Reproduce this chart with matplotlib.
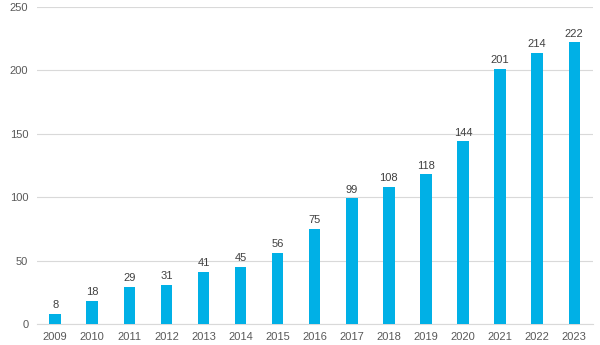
import matplotlib
matplotlib.use("Agg")
import matplotlib.pyplot as plt
import numpy as np

plt.rcParams["font.family"] = ["Liberation Sans", "DejaVu Sans"]

years = ["2009", "2010", "2011", "2012", "2013", "2014", "2015", "2016",
         "2017", "2018", "2019", "2020", "2021", "2022", "2023"]
counts = [8, 18, 29, 31, 41, 45, 56, 75, 99, 108, 118, 144, 201, 214, 222]

fig = plt.figure(figsize=(6, 3.45), dpi=100)
ax = fig.add_axes([0.061, 0.061, 0.927, 0.919])

x = np.arange(len(years))
bars = ax.bar(x, counts, width=0.31, color="#00B0E6", zorder=3)
for xi, v in zip(x, counts):
    ax.text(xi, v + 3, str(v), ha="center", va="bottom", fontsize=8, color="#404040")

ax.set_xlim(-0.5, len(years) - 0.5)
ax.set_ylim(0, 250)
ax.set_yticks(range(0, 251, 50))
ax.set_xticks(x)
ax.set_xticklabels(years)
ax.grid(axis="y", color="#D9D9D9", linewidth=0.8, zorder=0)
for s in ["top", "right", "left"]:
    ax.spines[s].set_visible(False)
ax.spines["bottom"].set_color("#D9D9D9")
ax.tick_params(length=0, labelsize=8, labelcolor="#595959")
ax.tick_params(axis="y", pad=6)
ax.tick_params(axis="x", pad=6)

fig.savefig("out.png", dpi=100)
